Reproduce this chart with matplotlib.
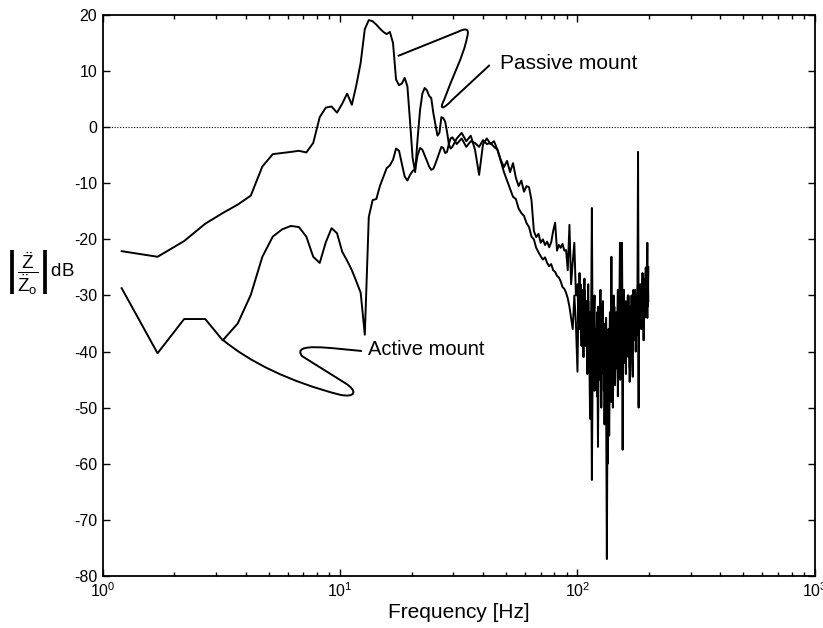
import matplotlib
matplotlib.use("Agg")
import matplotlib.pyplot as plt
from matplotlib.path import Path
from matplotlib.patches import PathPatch

plt.rcParams['font.family'] = 'Liberation Sans'
plt.rcParams['mathtext.fontset'] = 'custom'
plt.rcParams['mathtext.rm'] = 'Liberation Sans'
plt.rcParams['mathtext.it'] = 'Liberation Sans:italic'
plt.rcParams['axes.unicode_minus'] = False

# frequency bins [Hz], shared by both curves
freq = [1.2, 1.7, 2.2, 2.7, 3.2, 3.7, 4.2, 4.7, 5.2, 5.7,
        6.2, 6.7, 7.2, 7.7, 8.2, 8.7, 9.2, 9.7, 10.2, 10.7,
        11.2, 11.7, 12.2, 12.7, 13.2, 13.7, 14.2, 14.7, 15.2, 15.7,
        16.2, 16.7, 17.2, 17.7, 18.2, 18.7, 19.2, 19.7, 20.2, 20.7,
        21.2, 21.7, 22.2, 22.7, 23.2, 23.7, 24.2, 24.7, 25.2, 25.7,
        26.2, 26.7, 27.2, 27.7, 28.2, 28.7, 29.2, 29.7,
        31, 32.5, 34, 35.5, 37, 38.5, 40, 41.5, 43, 44.5,
        46, 47.5, 49, 50.5, 52, 53.5, 55, 56.5, 58, 59.5,
        61, 62.5, 64, 65.5, 67, 68.5, 70, 71.5, 73, 74.5,
        76, 77.5, 79, 80.5, 82, 83.5, 85, 86.5, 88, 89.5,
        91, 92.5, 94, 95.5, 97, 98.5,
        100, 101, 102, 103, 104, 105, 106, 107, 108, 109,
        110, 111, 112, 113, 114, 115, 116, 117, 118, 119,
        120, 121, 122, 123, 124, 125, 126, 127, 128, 129,
        130, 131, 132, 133, 134, 135, 136, 137, 138, 139,
        140, 141, 142, 143, 144, 145, 146, 147, 148, 149,
        150, 151, 152, 153, 154, 155, 156, 157, 158, 159,
        160, 161, 162, 163, 164, 165, 166, 167, 168, 169,
        170, 171, 172, 173, 174, 175, 176, 177, 178, 179,
        180, 181, 182, 183, 184, 185, 186, 187, 188, 189,
        190, 191, 192, 193, 194, 195, 196, 197, 198, 199]

passive_db = [-22.1, -23.1, -20.3, -17.2, -15.3, -13.8, -12.2, -7.0, -4.8, -4.6,
              -4.4, -4.2, -4.5, -2.8, 1.8, 3.5, 3.7, 2.6, 4.2, 6.0,
              4.0, 7.5, 11.5, 17.5, 19.1, 18.9, 18.3, 17.6, 17.0, 16.6,
              17.0, 15.0, 8.5, 7.5, 7.8, 8.8, 7.3, 1.0, -5.5, -8.0,
              -2.0, 3.0, 6.0, 7.0, 6.6, 5.6, 5.2, 2.5, 0.5, -1.5,
              -1.0, 1.8, 1.6, 1.0, -0.8, -3.0, -3.8, -3.5,
              -2.0, -1.0, -2.5, -1.5, -4.0, -8.5, -3.0, -2.0, -3.0, -2.5,
              -4.0, -6.0, -8.0, -9.5, -11.0, -12.4, -12.8, -14.5, -15.3, -15.8,
              -17.1, -17.8, -19.5, -20.0, -21.5, -22.3, -23.0, -23.6, -23.2, -24.2,
              -24.8, -24.4, -25.5, -25.8, -26.5, -26.8, -27.5, -28.5, -28.8, -29.5,
              -30.5, -32.0, -34.0, -36.0, -30.0, -35.0,
              -43.6, -30, -36, -28, -39, -32, -41, -29, -37, -33,
              -44, -31, -38, -52, -35, -62.9, -40, -31, -47, -36,
              -42, -33, -57, -38, -45, -34, -50, -39, -44, -35,
              -53, -40, -47, -77, -45, -38, -55, -41, -36, -49,
              -37, -50, -39, -32, -46, -37, -43, -33, -48, -36,
              -42, -45, -34, -40, -36, -57.5, -38, -31, -42, -35,
              -44, -33, -39, -30, -41, -34, -45.4, -32, -38, -35,
              -42, -44.5, -31, -37, -33, -29, -40, -34, -31, -37,
              -33, -50, -31, -36, -29, -34, -30, -36, -27, -33,
              -38, -29, -34, -31, -26, -33, -29, -34, -27, -31]

active_db = [-28.7, -40.3, -34.2, -34.2, -38.0, -35.0, -29.9, -23.1, -19.5, -18.2,
             -17.6, -17.8, -19.5, -23.1, -24.2, -20.5, -18.0, -18.9, -22.2, -23.8,
             -25.5, -27.5, -29.5, -37.0, -16.0, -13.0, -12.8, -10.5, -8.9, -7.3,
             -6.8, -5.8, -3.8, -4.2, -6.5, -8.8, -9.5, -8.5, -7.8, -7.5,
             -5.0, -3.7, -4.0, -5.0, -6.0, -7.0, -7.6, -7.4, -6.5, -5.5,
             -4.5, -3.5, -3.7, -4.6, -4.4, -3.0, -2.0, -1.8,
             -3.0, -2.0, -3.5, -2.5, -2.8, -3.5, -2.3, -3.0, -2.8, -3.5,
             -4.0, -5.8, -7.1, -6.0, -8.0, -6.4, -9.0, -10.5, -9.5, -11.5,
             -10.5, -10.7, -13.0, -18.5, -19.6, -19.0, -20.6, -20.0, -21.0, -20.4,
             -21.4, -20.5, -18.5, -17.0, -22.0, -21.0, -21.5, -20.8, -22.0, -21.9,
             -25.5, -17.4, -28.0, -24.0, -20.6, -30.0,
             -28, -35, -26, -33, -38, -29, -34, -27, -39, -31,
             -36, -28, -41, -33, -38, -14.4, -43, -35, -30, -46,
             -37, -48, -32, -40, -36, -29, -44, -35, -31, -47,
             -38, -48, -34, -41, -60, -36, -42, -33, -38, -23.1,
             -39, -47, -30, -37, -42, -33, -39, -35, -29, -41,
             -34, -20.6, -45, -31, -20.6, -38, -33, -29, -41, -36,
             -31, -38, -34, -40, -30, -36, -43, -32, -37, -30,
             -35, -39, -29, -36, -32, -38, -30, -35, -31, -28,
             -4.4, -36, -30, -34, -28, -33, -29, -35, -26, -32,
             -29, -34, -27, -31, -25, -30, -28, -20.6, -32, -25]

# hand-drawn leader lines (Hz, dB)
passive_leader = [(42.7, 11.1), (29.6, 4.85),
                  (27.1, 3.1), (26.1, 3.1), (27.4, 4.85),
                  (29.6, 8.8), (33.2, 12.9), (34.2, 15.9),
                  (35.2, 17.7), (33.9, 17.7), (31.3, 17.0),
                  (17.5, 12.7)]
passive_codes = [Path.MOVETO, Path.LINETO,
                 Path.CURVE4, Path.CURVE4, Path.CURVE4,
                 Path.CURVE4, Path.CURVE4, Path.CURVE4,
                 Path.CURVE4, Path.CURVE4, Path.CURVE4,
                 Path.LINETO]
active_leader = [(12.35, -39.9), (9.05, -39.4), (6.26, -38.3), (6.90, -40.8),
                 (10.47, -45.6),
                 (11.87, -47.0), (11.65, -48.3), (9.97, -47.7),
                 (6.14, -45.4), (4.16, -41.9), (3.20, -37.9)]
active_codes = [Path.MOVETO, Path.CURVE4, Path.CURVE4, Path.CURVE4,
                Path.LINETO,
                Path.CURVE4, Path.CURVE4, Path.CURVE4,
                Path.CURVE4, Path.CURVE4, Path.CURVE4]

fig = plt.figure(figsize=(8.23, 6.28), dpi=100)
ax = fig.add_axes([0.125, 0.083, 0.865, 0.893])

ax.semilogx(freq, passive_db, color='black', lw=1.4)
ax.semilogx(freq, active_db, color='black', lw=1.4)
ax.axhline(0, color='black', lw=0.8, ls=(0, (1, 1.5)))

for verts, codes in [(passive_leader, passive_codes), (active_leader, active_codes)]:
    ax.add_patch(PathPatch(Path(verts, codes), facecolor='none', edgecolor='black', lw=1.4))

ax.text(47.1, 11.4, 'Passive mount', fontsize=15, va='center', ha='left')
ax.text(13.1, -39.7, 'Active mount', fontsize=14.5, va='center', ha='left')

ax.set_xlim(1, 1000)
ax.set_ylim(-80, 20)
ax.set_yticks(range(-80, 21, 10))
ax.tick_params(which='both', direction='in', top=True, right=True, labelsize=11.5, width=1.0)
ax.tick_params(which='major', length=5, pad=4)
ax.tick_params(which='minor', length=3)
for s in ax.spines.values():
    s.set_linewidth(1.3)

ax.set_xlabel('Frequency [Hz]', fontsize=15, labelpad=2)
ax.set_ylabel(r'$\left|\dfrac{\ddot{\mathrm{Z}}}{\ddot{\mathrm{Z}}_\mathrm{o}}\right|$dB',
              fontsize=13.5, rotation=0, ha='center', va='center')
ax.yaxis.set_label_coords(-0.088, 0.542)

fig.savefig('out.png', dpi=100)
